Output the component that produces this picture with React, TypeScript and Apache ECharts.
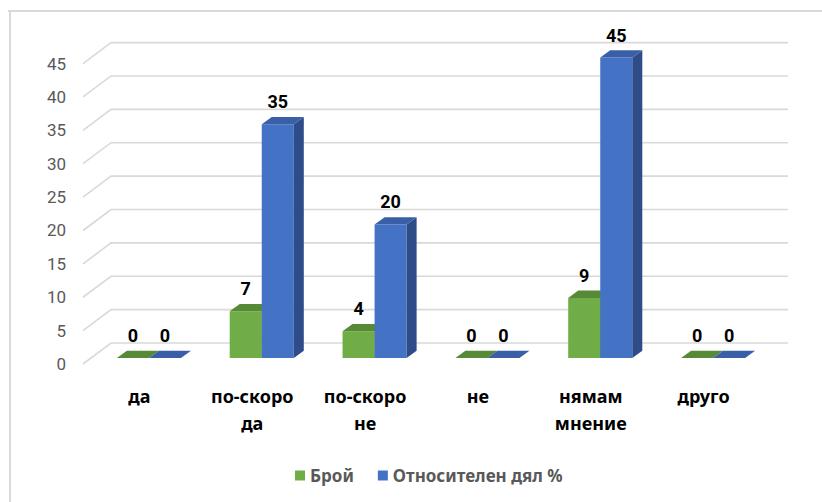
import React, { useEffect, useRef } from "react";
import * as echarts from "echarts";

const categories = ["да", "по-скоро да", "по-скоро не", "не", "нямам мнение", "друго"];
const countValues = [0, 7, 4, 0, 9, 0];
const shareValues = [0, 35, 20, 0, 45, 0];
const yTickValues = [0, 5, 10, 15, 20, 25, 30, 35, 40, 45];
const seriesNames = ["Брой", "Относителен дял %"];

const FONT = "Roboto, 'Noto Sans', sans-serif";
const TEXT_FONT = "'Noto Sans', Roboto, sans-serif";

function barRenderer(side: "left" | "right", front: string, top: string, sideCol: string) {
  return (params: any, api: any) => {
    const i = api.value(0);
    const v = api.value(1);
    const base = api.coord([i, 0]);
    const tp = api.coord([i, v]);
    const band = api.size([1, 0])[0];
    const w = band * 0.284;
    const ox = 9.5;
    const oy = -6;
    const x0 = base[0] + ox + (side === "left" ? -w : 0);
    const x1 = x0 + w;
    const yb = base[1] + oy;
    const yt = tp[1] + oy;
    const dx = 10;
    const dy = -7.3;
    const children: any[] = [];
    if (v > 0) {
      children.push({
        type: "polygon",
        shape: { points: [[x0, yt], [x1, yt], [x1, yb], [x0, yb]] },
        style: { fill: front },
      });
    }
    children.push({
      type: "polygon",
      shape: { points: [[x1, yt], [x1 + dx, yt + dy], [x1 + dx, yb + dy], [x1, yb]] },
      style: { fill: sideCol },
    });
    children.push({
      type: "polygon",
      shape: { points: [[x0, yt], [x0 + dx, yt + dy], [x1 + dx, yt + dy], [x1, yt]] },
      style: { fill: top },
    });
    children.push({
      type: "text",
      style: {
        text: String(v),
        x: x0 + w / 2,
        y: yt - 22.5,
        align: "center",
        verticalAlign: "middle",
        fill: "#000000",
        font: `bold 18px ${FONT}`,
      },
    });
    return { type: "group", children };
  };
}

function gridRenderer(params: any, api: any) {
  const v = api.value(1);
  const p = api.coord([0, v]);
  const cs = params.coordSys;
  const left = cs.x;
  const y = p[1];
  return {
    type: "polyline",
    shape: {
      points: [
        [left, y],
        [left + 28, y - 21],
        [left + cs.width + 28, y - 21],
      ],
    },
    style: { stroke: "#d9d9d9", lineWidth: 1.6, fill: "none" },
  };
}

export default function App() {
  const ref = useRef<HTMLDivElement>(null);
  useEffect(() => {
    if (!ref.current) return;
    const chart = echarts.init(ref.current, null, { renderer: "svg" });
    chart.setOption({
      animation: false,
      backgroundColor: "#ffffff",
      grid: { left: 83, right: 62, top: 63.6, bottom: 138, containLabel: false },
      xAxis: {
        type: "category",
        data: categories,
        axisLine: { show: false },
        axisTick: { show: false },
        splitLine: { show: false },
        axisLabel: {
          interval: 0,
          margin: 18,
          color: "#000000",
          fontFamily: TEXT_FONT,
          fontWeight: "bold",
          fontSize: 18,
          lineHeight: 27,
          formatter: (s: string) => s.replace(" ", "\n"),
        },
      },
      yAxis: {
        type: "value",
        min: 0,
        max: 45,
        interval: 5,
        axisLine: { show: false },
        axisTick: { show: false },
        splitLine: { show: false },
        axisLabel: { margin: 17, color: "#595959", fontFamily: FONT, fontSize: 17 },
      },
      legend: {
        data: seriesNames,
        left: 290,
        top: 462,
        icon: "rect",
        itemWidth: 10,
        itemHeight: 10,
        itemGap: 24,
        textStyle: { color: "#595959", fontFamily: TEXT_FONT, fontSize: 17, fontWeight: "bold" },
      },
      graphic: [
        { type: "line", shape: { x1: 8, y1: 11, x2: 822, y2: 11 }, style: { stroke: "#d9d9d9", lineWidth: 2 } },
        { type: "line", shape: { x1: 10, y1: 11, x2: 10, y2: 502 }, style: { stroke: "#d9d9d9", lineWidth: 2 } },
      ],
      series: [
        {
          type: "custom",
          name: "grid",
          z: 1,
          silent: true,
          renderItem: gridRenderer,
          encode: { x: 0, y: 1 },
          data: yTickValues.map((v) => [0, v]),
        },
        {
          type: "custom",
          name: seriesNames[0],
          z: 2,
          itemStyle: { color: "#70AD47" },
          renderItem: barRenderer("left", "#70AD47", "#578A37", "#4E7B31"),
          encode: { x: 0, y: 1 },
          data: countValues.map((v, i) => [i, v]),
        },
        {
          type: "custom",
          name: seriesNames[1],
          z: 3,
          itemStyle: { color: "#4472C4" },
          renderItem: barRenderer("right", "#4472C4", "#3A5FA8", "#2E4C87"),
          encode: { x: 0, y: 1 },
          data: shareValues.map((v, i) => [i, v]),
        },
      ],
    });
    return () => chart.dispose();
  }, []);
  return (
    <div
      ref={ref}
      style={{ position: "fixed", left: 0, top: 0, width: 822, height: 502 }}
    />
  );
}
